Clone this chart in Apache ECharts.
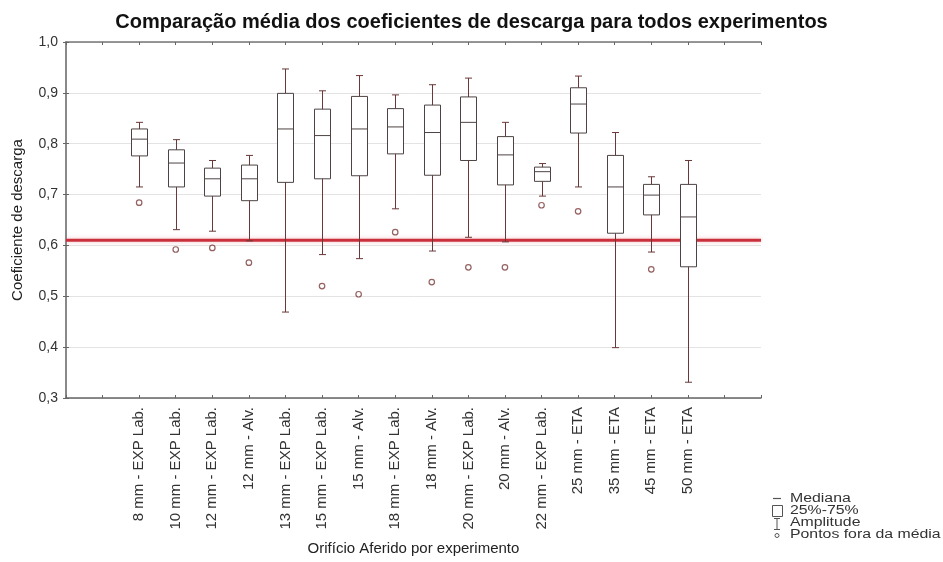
<!DOCTYPE html>
<html>
<head>
<meta charset="utf-8">
<script src="https://cdn.jsdelivr.net/npm/echarts@6/dist/echarts.min.js"></script>
<style>html,body{margin:0;padding:0;background:#fff}#c{width:943px;height:562px}</style>
</head>
<body>
<div id="c"></div>
<script>
const categories = ['8 mm - EXP Lab.', '10 mm - EXP Lab.', '12 mm - EXP Lab.', '12 mm - Alv.', '13 mm - EXP Lab.', '15 mm - EXP Lab.', '15 mm - Alv.', '18 mm - EXP Lab.', '18 mm - Alv.', '20 mm - EXP Lab.', '20 mm - Alv.', '22 mm - EXP Lab.', '25 mm - ETA', '35 mm - ETA', '45 mm - ETA', '50 mm - ETA'];
const whiskerMax = [0.842, 0.808, 0.767, 0.777, 0.947, 0.904, 0.934, 0.896, 0.916, 0.929, 0.842, 0.761, 0.933, 0.822, 0.735, 0.767];
const q3 = [0.829, 0.788, 0.752, 0.758, 0.899, 0.868, 0.893, 0.869, 0.876, 0.892, 0.814, 0.754, 0.910, 0.777, 0.720, 0.720];
const median = [0.809, 0.762, 0.731, 0.731, 0.829, 0.816, 0.829, 0.833, 0.822, 0.842, 0.778, 0.745, 0.878, 0.715, 0.699, 0.656];
const q1 = [0.776, 0.715, 0.697, 0.688, 0.724, 0.731, 0.737, 0.780, 0.738, 0.767, 0.719, 0.726, 0.821, 0.624, 0.660, 0.558];
const whiskerMin = [0.715, 0.631, 0.628, 0.609, 0.469, 0.582, 0.574, 0.672, 0.589, 0.616, 0.607, 0.697, 0.715, 0.399, 0.587, 0.331];
const outliers = [0.684, 0.592, 0.595, 0.566, null, 0.520, 0.504, 0.626, 0.528, 0.557, 0.557, 0.679, 0.667, null, 0.553, null];
const referenceValue = 0.61;
const yTicks = ['0,3', '0,4', '0,5', '0,6', '0,7', '0,8', '0,9', '1,0'];
const legendLabels = ['Mediana', '25%-75%', 'Amplitude', 'Pontos fora da média'];

const OFFSET = 2; // first category sits at axis position 2
const boxData = categories.map((c, i) => [i + OFFSET, whiskerMin[i], q1[i], median[i], q3[i], whiskerMax[i]]);
const outlierData = [];
outliers.forEach((v, i) => { if (v !== null) outlierData.push([i + OFFSET, v]); });

const LINE = '#6a3838';
const BOX = '#4e4343';
const FONT = 'Liberation Sans, Arial, sans-serif';

function renderBox(params, api) {
  const x = api.value(0);
  const pMin = api.coord([x, api.value(1)]);
  const pQ1 = api.coord([x, api.value(2)]);
  const pMed = api.coord([x, api.value(3)]);
  const pQ3 = api.coord([x, api.value(4)]);
  const pMax = api.coord([x, api.value(5)]);
  const cx = Math.round(pMin[0]) + 0.5;
  const hw = 8, cap = 3.5;
  return {
    type: 'group',
    children: [
      { type: 'line', shape: { x1: cx, y1: pMax[1], x2: cx, y2: pMin[1] }, style: { stroke: LINE, lineWidth: 1 } },
      { type: 'line', shape: { x1: cx - cap, y1: pMax[1], x2: cx + cap, y2: pMax[1] }, style: { stroke: LINE, lineWidth: 1 } },
      { type: 'line', shape: { x1: cx - cap, y1: pMin[1], x2: cx + cap, y2: pMin[1] }, style: { stroke: LINE, lineWidth: 1 } },
      { type: 'rect', shape: { x: cx - hw, y: pQ3[1], width: hw * 2, height: pQ1[1] - pQ3[1] }, style: { fill: '#fff', stroke: BOX, lineWidth: 1 } },
      { type: 'line', shape: { x1: cx - hw, y1: pMed[1], x2: cx + hw, y2: pMed[1] }, style: { stroke: BOX, lineWidth: 1 } }
    ]
  };
}

const LEG_X = 790, LEG_Y = [499, 511, 523, 535];
const legendText = legendLabels.map((t, i) => ({
  type: 'text', x: LEG_X, y: LEG_Y[i],
  style: { text: t, font: '12px ' + FONT, fill: '#333', textVerticalAlign: 'middle', textAlign: 'left' },
  scaleX: 1.32
}));

const chart = echarts.init(document.getElementById('c'), null, { renderer: 'canvas' });
const axisCommon = { type: 'value', min: 0, max: 19, interval: 1 };
const yCommon = { type: 'value', min: 0.3, max: 1.0, interval: 0.1 };
chart.setOption({
  animation: false,
  backgroundColor: '#fff',
  textStyle: { fontFamily: FONT },
  title: {
    text: 'Comparação média dos coeficientes de descarga para todos experimentos',
    left: 'center', top: 7,
    textStyle: { fontSize: 20, fontWeight: 'bold', color: '#111', fontFamily: FONT }
  },
  grid: { left: 66, right: 182, top: 42, bottom: 164, show: false },
  xAxis: [
    Object.assign({}, axisCommon, {
      position: 'bottom',
      name: 'Orifício Aferido por experimento',
      nameLocation: 'middle', nameGap: 143,
      nameTextStyle: { fontSize: 15, color: '#222', fontFamily: FONT },
      axisLine: { show: true, lineStyle: { color: '#666', width: 1.5 } },
      axisTick: { show: true, inside: true, length: 3, lineStyle: { color: '#666' } },
      axisLabel: {
        rotate: 90, fontSize: 15, color: '#333', margin: 9, fontFamily: FONT,
        showMinLabel: true, showMaxLabel: true,
        formatter: v => categories[v - OFFSET] || ''
      },
      splitLine: { show: false }
    }),
    Object.assign({}, axisCommon, {
      position: 'top',
      axisLine: { show: true, lineStyle: { color: '#777', width: 1.5 } },
      axisTick: { show: true, inside: true, length: 3, lineStyle: { color: '#666' } },
      axisLabel: { show: false },
      splitLine: { show: false }
    })
  ],
  yAxis: [
    Object.assign({}, yCommon, {
      position: 'left',
      name: 'Coeficiente de descarga',
      nameLocation: 'middle', nameGap: 41,
      nameTextStyle: { fontSize: 15, color: '#222', fontFamily: FONT },
      axisLine: { show: true, lineStyle: { color: '#666', width: 1.5 } },
      axisTick: { show: true, inside: true, length: 3, lineStyle: { color: '#666' } },
      axisLabel: {
        fontSize: 14, color: '#333', margin: 8, fontFamily: FONT,
        formatter: v => yTicks[Math.round((v - 0.3) * 10)]
      },
      splitLine: { show: true, lineStyle: { color: '#e3e3e3', width: 1 } }
    }),
    Object.assign({}, yCommon, {
      position: 'right',
      axisLine: { show: true, lineStyle: { color: '#888', width: 1.5 } },
      axisTick: { show: true, inside: true, length: 3, lineStyle: { color: '#666' } },
      axisLabel: { show: false },
      splitLine: { show: false }
    })
  ],
  series: [
    {
      type: 'line',
      name: 'Referência',
      data: [[0, referenceValue], [19, referenceValue]],
      symbol: 'none',
      z: 1,
      lineStyle: { color: '#c9303b', width: 3, shadowBlur: 4, shadowColor: 'rgba(220,70,80,0.35)' }
    },
    {
      type: 'custom',
      name: 'Caixas',
      renderItem: renderBox,
      data: boxData,
      encode: { x: 0, y: [1, 2, 3, 4, 5] },
      z: 3
    },
    {
      type: 'scatter',
      name: 'Pontos fora da média',
      data: outlierData,
      symbol: 'circle',
      symbolSize: 5.5,
      itemStyle: { color: '#fff', borderColor: '#7a3a3a', borderWidth: 1.2 },
      z: 4
    }
  ],
  graphic: [
    { type: 'line', shape: { x1: 773, y1: 498.5, x2: 781, y2: 498.5 }, style: { stroke: '#555', lineWidth: 1.2 } },
    { type: 'rect', shape: { x: 772.5, y: 505.5, width: 10, height: 11 }, style: { fill: '#fff', stroke: '#555', lineWidth: 1 } },
    { type: 'line', shape: { x1: 774, y1: 518.5, x2: 780, y2: 518.5 }, style: { stroke: '#555', lineWidth: 1 } },
    { type: 'line', shape: { x1: 777, y1: 518.5, x2: 777, y2: 529.5 }, style: { stroke: '#555', lineWidth: 1 } },
    { type: 'line', shape: { x1: 774, y1: 529.5, x2: 780, y2: 529.5 }, style: { stroke: '#555', lineWidth: 1 } },
    { type: 'circle', shape: { cx: 777, cy: 535.5, r: 2 }, style: { fill: '#fff', stroke: '#555', lineWidth: 1 } }
  ].concat(legendText)
});
</script>
</body>
</html>
